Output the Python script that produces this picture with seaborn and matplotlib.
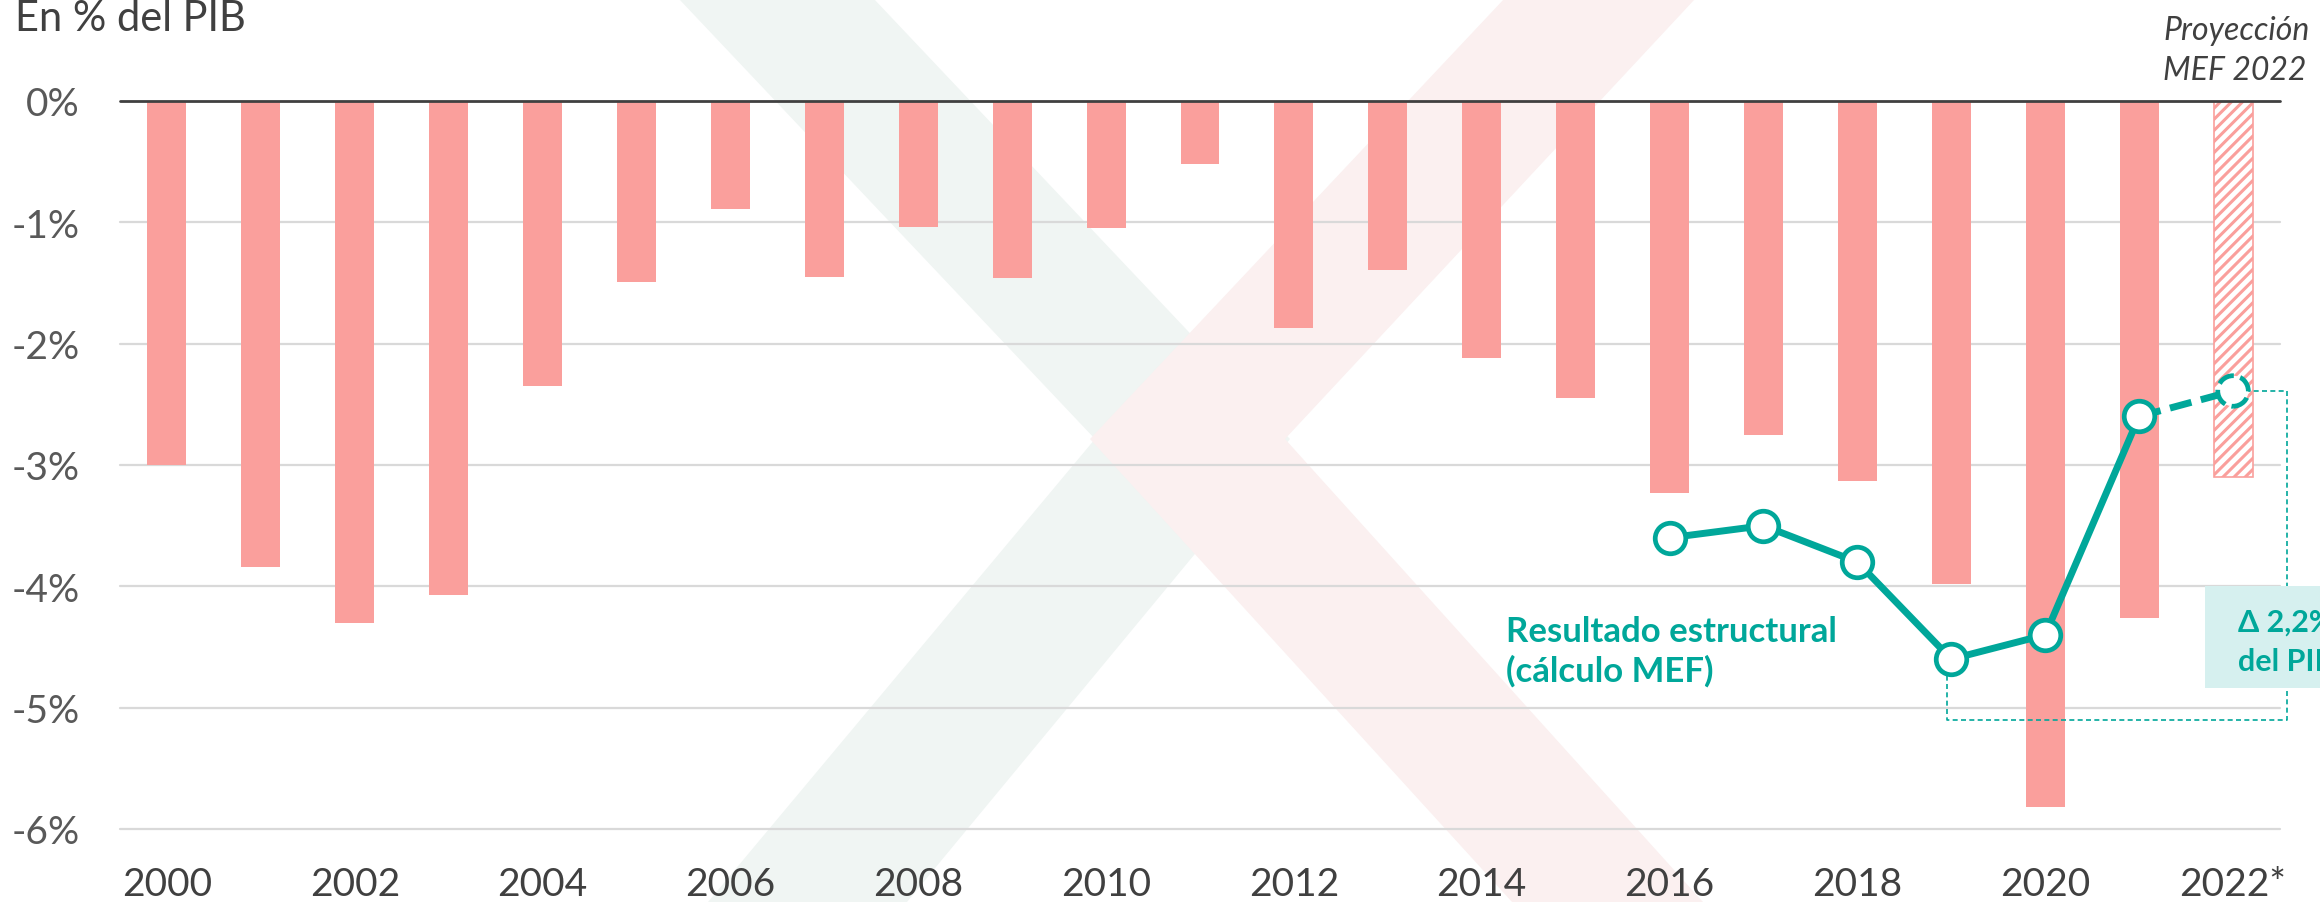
import matplotlib
matplotlib.use('Agg')
import matplotlib.pyplot as plt
import seaborn as sns
import pandas as pd
from matplotlib.patches import Polygon, Rectangle

# Data
years = [str(y) for y in range(2000, 2022)] + ['2022*']
balance = [-3.00, -3.84, -4.30, -4.07, -2.35, -1.49, -0.89, -1.45, -1.04, -1.46, -1.05, -0.52,
           -1.87, -1.39, -2.12, -2.45, -3.23, -2.75, -3.13, -3.98, -5.82, -4.26, -3.10]
struct_years = ['2016', '2017', '2018', '2019', '2020', '2021']
struct_vals = [-3.6, -3.5, -3.8, -4.6, -4.4, -2.6]
proj_years = ['2021', '2022*']
proj_vals = [-2.6, -2.39]
ytick_vals = [0, -1, -2, -3, -4, -5, -6]
ytick_labels = ['0%', '-1%', '-2%', '-3%', '-4%', '-5%', '-6%']

PINK = '#FA9F9C'
TEAL = '#00A79A'
GRID = '#D9D9D9'
DARK = '#404040'

sns.set_style('white')
plt.rcParams['font.family'] = ['Lato', 'DejaVu Sans']
plt.rcParams['hatch.linewidth'] = 2.2

W, H = 2320, 903
fig = plt.figure(figsize=(W / 100, H / 100), dpi=100)
ax = fig.add_axes([120 / W, (H - 830) / H, (2280 - 120) / W, (830 - 102) / H])
ax.set_facecolor('none')


# faint logo watermark in the background (figure pixels)
def fpx(pts):
    return [(x / W, 1 - y / H) for x, y in pts]


green = Polygon(fpx([(679, 0), (874, 0), (1290, 440), (907, 903), (708, 903), (1095, 440)]),
                closed=True, transform=fig.transFigure, facecolor='#F0F5F3', edgecolor='none', zorder=-2)
pink = Polygon(fpx([(1504, 0), (1695, 0), (1285, 440), (1703, 903), (1512, 903), (1090, 440)]),
               closed=True, transform=fig.transFigure, facecolor='#FBF0F0', edgecolor='none', zorder=-1)
fig.add_artist(green)
fig.add_artist(pink)

pos = {y: i for i, y in enumerate(years)}

# gridlines and zero line
for v in ytick_vals[1:]:
    ax.axhline(v, color=GRID, lw=1.6, zorder=0, clip_on=False)
ax.axhline(0, color=DARK, lw=2.0, zorder=3, clip_on=False)

# bars
df = pd.DataFrame({'year': years, 'balance': balance})
sns.barplot(data=df, x='year', y='balance', color=PINK, saturation=1, width=0.415,
            errorbar=None, linewidth=0, ax=ax, zorder=2)
last = ax.patches[-1]
last.set_facecolor('white')
last.set_edgecolor(PINK)
last.set_hatch('///')
last.set_linewidth(1.2)

# dotted bracket for the 2019-2022 change
x19, x22 = pos['2019'], pos['2022*']
ax.plot([x19 - 0.05, x19 - 0.05, x22 + 0.57, x22 + 0.57, x22],
        [struct_vals[3], -5.1, -5.1, proj_vals[1], proj_vals[1]],
        color=TEAL, lw=1.2, ls=(0, (3, 2)), zorder=3, clip_on=False)

# structural balance line
sdf = pd.DataFrame({'x': [pos[y] for y in struct_years], 'v': struct_vals})
sns.lineplot(data=sdf, x='x', y='v', color=TEAL, linewidth=5, marker='o', markersize=22,
             markerfacecolor='white', markeredgecolor=TEAL, markeredgewidth=3.4, ax=ax, zorder=5)
pdf = pd.DataFrame({'x': [pos[y] for y in proj_years], 'v': proj_vals})
sns.lineplot(data=pdf, x='x', y='v', color=TEAL, linewidth=5, linestyle=(0, (3.2, 1.4)), ax=ax, zorder=4)
ax.scatter([pos['2022*']], [proj_vals[1]], s=22 ** 2, facecolor='white', edgecolor=TEAL,
           linewidth=3.4, linestyle=(0, (3.6, 1.4)), zorder=6)

# axes formatting
ax.set_xlim(-0.5, 22.5)
ax.set_ylim(-6, 0)
ax.set_yticks(ytick_vals)
ax.set_yticklabels(ytick_labels)
ax.set_xticks(range(0, 23, 2))
ax.set_xticklabels(years[::2])
ax.tick_params(axis='y', length=0, pad=29, labelsize=28, labelcolor='#595959')
ax.tick_params(axis='x', length=0, pad=27, labelsize=28, labelcolor=DARK)
ax.set_xlabel('')
ax.set_ylabel('')
sns.despine(ax=ax, left=True, bottom=True)

# annotations (va='baseline' anchors the last line)
ax.text(14.26, -4.78, 'Resultado estructural\n(cálculo MEF)', color=TEAL, fontsize=25,
        fontweight='bold', ha='left', va='baseline', linespacing=1.26, zorder=7)
ax.add_patch(Rectangle((21.70, -4.84), 2.0, 0.84, facecolor='#D6F0EF', edgecolor='none',
                       zorder=6, clip_on=False))
ax.text(22.05, -4.69, '\u0394 2,2%\ndel PIB', color=TEAL, fontsize=22, fontweight='bold',
        ha='left', va='baseline', linespacing=1.5, zorder=7, clip_on=False)

fig.text(15 / W, 1 - 31 / H, 'En % del PIB', fontsize=30, color=DARK, ha='left', va='baseline')
fig.text(2163 / W, 1 - 80 / H, 'Proyección\nMEF 2022', fontsize=23, style='italic', color=DARK,
         ha='left', va='baseline', linespacing=1.4)

fig.savefig('out.png', dpi=100)
